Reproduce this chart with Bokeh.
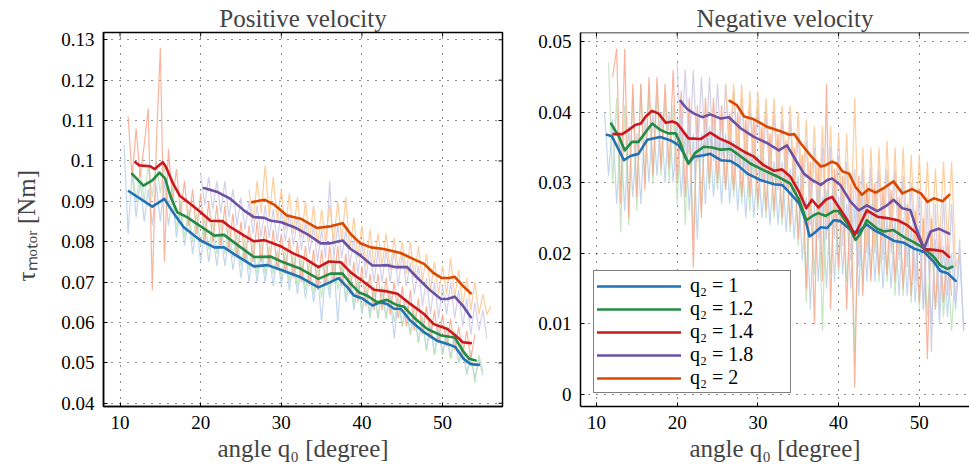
import math
from bokeh.plotting import figure
from bokeh.models import FixedTicker, Range1d, Legend, LegendItem, Span
from bokeh.layouts import row
from bokeh.embed import file_html
from bokeh.resources import INLINE

FONT = "Liberation Serif"

# ---------------- data ----------------
series_labels = ["q₂ = 1", "q₂ = 1.2", "q₂ = 1.4", "q₂ = 1.8", "q₂ = 2"]
main_colors = ["#2171b5", "#238b45", "#cb181d", "#6a51a3", "#d94801"]
pale_colors = ["#b7d0ea", "#bde2b6", "#f9a68c", "#cdc8e4", "#fdc58e"]

x_ticks = [10, 20, 30, 40, 50]
x_tick_labels = ["10", "20", "30", "40", "50"]
pos_y_ticks = [0.04, 0.05, 0.06, 0.07, 0.08, 0.09, 0.10, 0.11, 0.12, 0.13]
pos_y_tick_labels = ["0.04", "0.05", "0.06", "0.07", "0.08", "0.09", "0.1", "0.11", "0.12", "0.13"]
neg_y_ticks = [0.0, 0.01, 0.02, 0.03, 0.04, 0.05]
neg_y_tick_labels = ["0", "0.01", "0.02", "0.03", "0.04", "0.05"]

# raw (unfiltered) measurements, sampled every 0.5 degree from the start angle
raw_step = 0.5
pos_raw_start = [10.5, 11.5, 11.0, 20.0, 26.0]
pos_raw_q1 = [0.104,0.082,0.097,0.086,0.095,0.085,0.093,0.084,0.094,0.085,0.095,0.084,0.091,0.081,0.088,0.079,0.086,0.077,0.084,0.075,0.083,0.075,0.082,0.074,0.082,0.074,0.081,0.073,0.080,0.071,0.079,0.070,0.078,0.070,0.077,0.070,0.077,0.069,0.077,0.069,0.076,0.068,0.075,0.067,0.074,0.066,0.073,0.065,0.072,0.060,0.073,0.066,0.075,0.060,0.074,0.065,0.071,0.063,0.070,0.062,0.068,0.061,0.068,0.061,0.068,0.061,0.067,0.056,0.066,0.059,0.064,0.057,0.062,0.055,0.061,0.053,0.059,0.052,0.058,0.052,0.057,0.051,0.056,0.050,0.054,0.047,0.052,0.046,0.051,0.047]
pos_raw_q12 = [0.099,0.090,0.098,0.090,0.099,0.091,0.100,0.092,0.099,0.088,0.094,0.083,0.090,0.081,0.088,0.080,0.087,0.079,0.086,0.078,0.085,0.077,0.085,0.077,0.084,0.076,0.082,0.074,0.081,0.073,0.080,0.072,0.080,0.072,0.079,0.072,0.078,0.071,0.078,0.070,0.077,0.069,0.076,0.068,0.075,0.067,0.074,0.066,0.075,0.068,0.076,0.068,0.075,0.066,0.073,0.064,0.071,0.063,0.070,0.062,0.069,0.061,0.069,0.061,0.068,0.060,0.067,0.059,0.066,0.057,0.064,0.055,0.062,0.053,0.061,0.052,0.060,0.052,0.059,0.051,0.058,0.050,0.055,0.047,0.053,0.045,0.052,0.048]
pos_raw_q14 = [0.111,0.096,0.108,0.096,0.104,0.113,0.068,0.104,0.128,0.075,0.103,0.090,0.098,0.087,0.095,0.084,0.093,0.082,0.092,0.080,0.090,0.080,0.089,0.079,0.089,0.078,0.087,0.076,0.085,0.075,0.084,0.075,0.085,0.075,0.084,0.074,0.083,0.073,0.082,0.072,0.081,0.071,0.080,0.070,0.079,0.069,0.078,0.068,0.078,0.069,0.079,0.070,0.079,0.069,0.077,0.067,0.075,0.065,0.074,0.064,0.072,0.063,0.072,0.063,0.071,0.062,0.070,0.061,0.069,0.059,0.068,0.058,0.066,0.057,0.064,0.056,0.063,0.055,0.062,0.054,0.061,0.053,0.059,0.052,0.058,0.051,0.057]
pos_raw_q18 = [0.097,0.089,0.096,0.088,0.095,0.087,0.095,0.086,0.093,0.084,0.091,0.083,0.090,0.082,0.089,0.081,0.089,0.081,0.088,0.080,0.088,0.080,0.087,0.079,0.086,0.078,0.085,0.077,0.084,0.075,0.083,0.076,0.095,0.076,0.084,0.076,0.083,0.074,0.081,0.072,0.080,0.071,0.078,0.070,0.078,0.070,0.078,0.070,0.078,0.069,0.077,0.069,0.075,0.067,0.074,0.064,0.071,0.062,0.070,0.061,0.069,0.062,0.070,0.061,0.068,0.059,0.066,0.057,0.065,0.058,0.063,0.056]
pos_raw_q2 = [0.093,0.085,0.095,0.087,0.099,0.086,0.096,0.085,0.093,0.083,0.092,0.082,0.091,0.081,0.090,0.080,0.089,0.079,0.088,0.080,0.089,0.080,0.090,0.080,0.091,0.078,0.086,0.076,0.084,0.074,0.083,0.074,0.082,0.074,0.082,0.073,0.081,0.073,0.080,0.072,0.080,0.071,0.079,0.070,0.077,0.068,0.075,0.067,0.074,0.067,0.076,0.066,0.073,0.064,0.071,0.063,0.070,0.062,0.067,0.062,0.064]

neg_raw_start = [11.0, 11.5, 12.0, 20.0, 26.0]
neg_raw_q1 = [0.040,0.031,0.039,0.027,0.037,0.026,0.038,0.028,0.037,0.027,0.039,0.030,0.040,0.031,0.040,0.030,0.040,0.030,0.039,0.028,0.037,0.026,0.037,0.022,0.037,0.027,0.038,0.028,0.037,0.027,0.037,0.027,0.036,0.026,0.035,0.025,0.034,0.025,0.034,0.025,0.033,0.024,0.033,0.024,0.033,0.023,0.032,0.022,0.031,0.019,0.028,0.012,0.027,0.016,0.028,0.015,0.028,0.016,0.028,0.017,0.027,0.015,0.027,0.014,0.028,0.016,0.027,0.016,0.026,0.015,0.025,0.015,0.025,0.014,0.025,0.014,0.024,0.013,0.024,0.012,0.023,0.010,0.022,0.010,0.021,0.011,0.020,0.012,0.020,0.009]
neg_raw_q12 = [0.047,0.030,0.042,0.023,0.041,0.024,0.043,0.026,0.044,0.030,0.043,0.030,0.043,0.031,0.042,0.030,0.041,0.027,0.040,0.024,0.039,0.022,0.039,0.026,0.039,0.029,0.039,0.029,0.039,0.029,0.038,0.028,0.037,0.027,0.036,0.026,0.036,0.026,0.035,0.025,0.035,0.025,0.034,0.024,0.034,0.023,0.033,0.021,0.031,0.013,0.029,0.017,0.029,0.009,0.029,0.017,0.029,0.017,0.028,0.016,0.026,0.006,0.027,0.016,0.029,0.017,0.027,0.016,0.026,0.016,0.026,0.014,0.026,0.014,0.025,0.013,0.025,0.012,0.024,0.011,0.022,0.012,0.021,0.011,0.020,0.009,0.019]
neg_raw_q14 = [0.045,0.049,0.027,0.049,0.025,0.044,0.028,0.044,0.029,0.045,0.031,0.045,0.032,0.044,0.032,0.046,0.030,0.043,0.028,0.042,0.018,0.041,0.025,0.042,0.030,0.042,0.030,0.041,0.029,0.040,0.029,0.040,0.028,0.039,0.028,0.039,0.027,0.038,0.026,0.037,0.026,0.037,0.025,0.036,0.024,0.035,0.022,0.034,0.015,0.033,0.010,0.033,0.016,0.044,0.012,0.032,0.018,0.031,0.012,0.030,0.001,0.031,0.014,0.030,0.016,0.030,0.017,0.029,0.017,0.029,0.016,0.028,0.015,0.027,0.014,0.026,0.013,0.025,0.005,0.025,0.012,0.023,0.013,0.022,0.014]
neg_raw_q18 = [0.047,0.035,0.046,0.034,0.046,0.033,0.045,0.034,0.045,0.033,0.044,0.033,0.044,0.033,0.043,0.032,0.042,0.031,0.041,0.031,0.041,0.030,0.040,0.030,0.040,0.029,0.039,0.029,0.039,0.028,0.037,0.026,0.036,0.024,0.035,0.022,0.035,0.022,0.035,0.022,0.034,0.021,0.033,0.019,0.032,0.018,0.032,0.020,0.032,0.020,0.032,0.019,0.032,0.020,0.032,0.019,0.031,0.018,0.030,0.016,0.029,0.012,0.028,0.006,0.027,0.012,0.028,0.014,0.027,0.013,0.022,0.009]
neg_raw_q2 = [0.044,0.035,0.044,0.034,0.044,0.033,0.043,0.033,0.043,0.032,0.042,0.032,0.042,0.031,0.041,0.031,0.041,0.030,0.040,0.028,0.039,0.026,0.038,0.025,0.038,0.025,0.038,0.025,0.037,0.024,0.037,0.023,0.042,0.021,0.035,0.021,0.035,0.021,0.035,0.022,0.036,0.022,0.035,0.021,0.035,0.021,0.034,0.021,0.034,0.020,0.033,0.020,0.032,0.021,0.033,0.021,0.033,0.018,0.020]

# filtered curves
pos_x_q1 = [11.1,14.0,15.5,16.7,17.9,20.0,21.7,22.9,24.1,26.6,28.3,30.0,32.4,34.6,36.1,37.1,38.2,39.0,40.0,41.3,42.3,43.1,44.0,44.8,46.0,47.7,49.3,50.6,51.6,52.6,53.5,54.5]
pos_y_q1 = [0.0925,0.0887,0.0906,0.0869,0.0836,0.0803,0.0786,0.0786,0.0770,0.0739,0.0742,0.0730,0.0712,0.0687,0.0700,0.0710,0.0687,0.0667,0.0660,0.0642,0.0650,0.0646,0.0634,0.0634,0.0605,0.0576,0.0555,0.0547,0.0539,0.0510,0.0497,0.0495]
pos_x_q12 = [11.5,12.9,14.0,14.9,15.6,16.3,17.1,18.3,20.0,21.7,22.9,24.1,26.6,28.7,30.0,32.4,34.6,36.1,37.6,38.6,39.6,40.6,41.9,43.1,44.2,45.2,46.4,48.1,49.8,51.5,52.5,53.3,54.1]
pos_y_q12 = [0.0968,0.0939,0.0952,0.0971,0.0956,0.0910,0.0873,0.0861,0.0838,0.0815,0.0817,0.0799,0.0762,0.0763,0.0751,0.0733,0.0708,0.0721,0.0721,0.0696,0.0675,0.0667,0.0650,0.0656,0.0644,0.0639,0.0613,0.0584,0.0568,0.0563,0.0530,0.0510,0.0506]
pos_x_q14 = [11.9,12.4,13.7,14.3,15.3,15.7,16.6,17.4,18.7,20.0,21.2,22.7,23.7,25.4,26.6,27.9,30.0,31.6,32.8,34.6,35.9,37.4,38.6,40.0,41.5,43.1,44.4,46.0,47.7,48.9,50.6,51.6,52.5,53.5]
pos_y_q14 = [0.0997,0.0989,0.0987,0.0980,0.0997,0.0985,0.0943,0.0914,0.0894,0.0873,0.0852,0.0851,0.0836,0.0815,0.0801,0.0804,0.0788,0.0770,0.0760,0.0737,0.0751,0.0749,0.0724,0.0704,0.0681,0.0677,0.0671,0.0646,0.0621,0.0596,0.0584,0.0568,0.0551,0.0549]
pos_x_q18 = [20.4,22.1,23.7,25.4,26.6,27.9,28.7,30.0,31.6,33.2,34.9,36.1,37.6,38.6,39.8,41.3,42.3,43.1,44.2,45.6,46.8,48.5,49.8,50.6,51.5,52.5,53.5]
pos_y_q18 = [0.0933,0.0923,0.0906,0.0877,0.0861,0.0859,0.0852,0.0848,0.0836,0.0819,0.0796,0.0796,0.0803,0.0782,0.0766,0.0741,0.0741,0.0742,0.0737,0.0737,0.0712,0.0679,0.0658,0.0658,0.0664,0.0642,0.0613]
pos_x_q2 = [26.4,27.9,29.1,30.7,32.4,34.4,36.1,37.6,38.6,39.8,41.1,42.7,44.8,46.4,47.7,48.9,49.9,50.8,51.5,52.5,53.5]
pos_y_q2 = [0.0898,0.0904,0.0892,0.0865,0.0857,0.0834,0.0838,0.0846,0.0819,0.0796,0.0786,0.0782,0.0772,0.0757,0.0745,0.0722,0.0710,0.0710,0.0713,0.0691,0.0672]

neg_x_q1 = [11.3,11.9,12.8,13.4,14.2,15.2,16.3,17.9,19.2,20.2,20.8,21.4,22.1,23.3,24.1,25.4,26.6,27.6,28.7,30.3,32.0,33.0,34.0,35.1,35.9,36.4,36.9,37.8,38.6,39.4,40.2,41.5,42.3,43.5,44.4,45.6,46.8,48.1,49.3,50.6,51.8,52.6,53.5,54.5]
neg_y_q1 = [0.0368,0.0366,0.0346,0.0332,0.0338,0.0341,0.0361,0.0365,0.0360,0.0353,0.0342,0.0328,0.0337,0.0339,0.0341,0.0332,0.0331,0.0324,0.0313,0.0304,0.0298,0.0297,0.0285,0.0271,0.0247,0.0224,0.0228,0.0237,0.0236,0.0247,0.0246,0.0233,0.0229,0.0241,0.0233,0.0226,0.0218,0.0215,0.0207,0.0202,0.0188,0.0175,0.0172,0.0161]
neg_x_q12 = [11.8,12.8,13.5,14.4,15.2,16.1,16.9,17.9,18.9,19.8,20.4,21.0,21.4,22.2,23.3,24.3,25.4,26.6,27.8,29.1,30.7,32.4,34.0,35.1,36.0,36.9,37.5,38.4,39.4,40.0,41.1,42.1,42.7,43.5,44.8,45.6,46.8,48.1,49.3,50.6,51.8,52.6,53.5,54.1]
neg_y_q12 = [0.0384,0.0365,0.0346,0.0358,0.0358,0.0372,0.0384,0.0375,0.0370,0.0370,0.0356,0.0336,0.0327,0.0342,0.0351,0.0350,0.0347,0.0348,0.0338,0.0327,0.0318,0.0309,0.0299,0.0276,0.0247,0.0254,0.0257,0.0253,0.0260,0.0260,0.0242,0.0219,0.0228,0.0247,0.0235,0.0231,0.0233,0.0223,0.0216,0.0207,0.0195,0.0183,0.0178,0.0181]
neg_x_q14 = [12.1,13.2,14.0,14.8,15.5,16.1,16.9,17.7,18.6,19.4,20.0,20.6,21.4,22.9,24.1,25.2,26.6,28.3,29.5,30.7,32.0,33.0,34.0,35.1,36.0,36.7,37.5,38.4,39.2,40.0,41.1,42.0,42.7,43.5,44.8,46.0,47.3,48.5,49.7,50.6,51.8,52.9,53.7]
neg_y_q14 = [0.0369,0.0369,0.0375,0.0382,0.0384,0.0394,0.0402,0.0398,0.0385,0.0387,0.0384,0.0375,0.0363,0.0362,0.0371,0.0363,0.0356,0.0344,0.0337,0.0325,0.0317,0.0319,0.0309,0.0287,0.0264,0.0276,0.0265,0.0276,0.0280,0.0266,0.0247,0.0226,0.0242,0.0261,0.0252,0.0250,0.0247,0.0240,0.0228,0.0206,0.0205,0.0203,0.0195]
neg_x_q18 = [20.4,21.2,22.1,23.1,24.1,25.4,26.4,27.9,29.5,31.2,32.6,33.6,34.7,35.7,36.7,37.8,38.6,39.2,40.2,41.5,42.5,43.5,44.8,46.0,46.8,47.9,48.9,49.7,50.6,51.4,52.4,53.7]
neg_y_q18 = [0.0416,0.0405,0.0398,0.0393,0.0397,0.0391,0.0393,0.0377,0.0365,0.0356,0.0346,0.0353,0.0332,0.0313,0.0304,0.0297,0.0304,0.0306,0.0297,0.0273,0.0261,0.0268,0.0260,0.0268,0.0276,0.0264,0.0261,0.0233,0.0207,0.0231,0.0235,0.0228]
neg_x_q2 = [26.5,27.4,28.3,29.5,31.2,32.8,33.9,34.5,35.3,36.5,37.8,38.4,39.2,39.8,40.5,41.3,42.1,42.9,43.7,44.6,45.8,46.8,47.9,49.1,50.2,51.0,51.8,52.9,53.7]
neg_y_q2 = [0.0416,0.0410,0.0394,0.0390,0.0379,0.0373,0.0368,0.0369,0.0356,0.0339,0.0323,0.0325,0.0330,0.0327,0.0316,0.0313,0.0294,0.0283,0.0291,0.0286,0.0294,0.0302,0.0285,0.0291,0.0285,0.0273,0.0278,0.0274,0.0283]

pos_x_range = (7.95, 57.43)
neg_x_range = (8.02, 56.22)   # the right edge of this panel is cut off by the picture
pos_y_range = (0.0392, 0.1318)
neg_y_range = (-0.0017, 0.0513)


def raw_x(start, vals):
    return [start + raw_step * i for i in range(len(vals))]


def style_axis(ax, ticks, labels):
    ax.ticker = FixedTicker(ticks=ticks)
    ax.major_label_overrides = {t: l for t, l in zip(ticks, labels)}
    ax.major_tick_in = 4
    ax.major_tick_out = 0
    ax.minor_tick_in = 0
    ax.minor_tick_out = 0
    ax.major_tick_line_color = "black"
    ax.axis_line_color = "black"
    ax.axis_line_width = 1.5
    ax.major_label_text_font = FONT
    ax.major_label_text_color = "black"
    ax.major_label_text_font_size = "19px"
    ax.major_label_standoff = 9


def make_panel(title, xr, yr, yticks, ylabels, raws, starts, curves, width, bl, br, ylabel,
               boxed, title_offset):
    p = figure(width=width, height=464, output_backend="svg", toolbar_location=None,
               x_range=Range1d(*xr), y_range=Range1d(*yr),
               min_border_left=bl, min_border_right=br, min_border_top=32, min_border_bottom=58)
    p.title.text = title
    p.title.text_font = FONT
    p.title.text_font_size = "25px"
    p.title.text_font_style = "normal"
    p.title.standoff = 1
    if title_offset is None:
        p.title.align = "center"
    else:
        p.title.align = "left"
        p.title.offset = title_offset
    p.background_fill_color = "white"
    p.border_fill_color = "white"

    style_axis(p.xaxis[0], x_ticks, x_tick_labels)
    style_axis(p.yaxis[0], yticks, ylabels)
    p.xaxis.axis_label = "angle q₀ [degree]"
    p.xaxis.axis_label_text_font = FONT
    p.xaxis.axis_label_text_font_size = "25px"
    p.xaxis.axis_label_text_font_style = "normal"
    p.xaxis.axis_label_standoff = 3
    if ylabel:
        p.yaxis.axis_label = ylabel
        p.yaxis.axis_label_text_font = FONT
        p.yaxis.axis_label_text_font_size = "25px"
        p.yaxis.axis_label_text_font_style = "normal"
        p.yaxis.axis_label_standoff = 18

    for ax_grid in (p.xgrid[0], p.ygrid[0]):
        ax_grid.grid_line_color = "black"
        ax_grid.grid_line_dash = "1 7"
        ax_grid.grid_line_width = 1
        ax_grid.grid_line_alpha = 0.9
    p.xgrid[0].ticker = FixedTicker(ticks=x_ticks)
    p.ygrid[0].ticker = FixedTicker(ticks=yticks)

    for vals, st, col in zip(raws, starts, pale_colors):
        p.line(raw_x(st, vals), vals, line_color=col, line_width=1.2, line_alpha=0.85)
    rends = []
    for (xs, ys), col in zip(curves, main_colors):
        rends.append(p.line(xs, ys, line_color=col, line_width=2.6, line_join="round", line_cap="round"))

    # inward tick marks on the top (and right) edges of the box; half of each dash is clipped away
    p.scatter(x=x_ticks, y=[yr[1]] * len(x_ticks), marker="dash", angle=math.pi / 2,
              size=8, line_color="black", line_width=1)
    if boxed:
        p.outline_line_color = "black"
        p.outline_line_width = 1.5
        p.scatter(x=[xr[1]] * len(yticks), y=yticks, marker="dash",
                  size=8, line_color="black", line_width=1)
    else:
        p.outline_line_color = None
        p.add_layout(Span(location=yr[1], dimension="width", line_color="black", line_width=1.5))
    return p, rends


p1, _ = make_panel("Positive velocity", pos_x_range, pos_y_range, pos_y_ticks, pos_y_tick_labels,
                   [pos_raw_q1, pos_raw_q12, pos_raw_q14, pos_raw_q18, pos_raw_q2], pos_raw_start,
                   [(pos_x_q1, pos_y_q1), (pos_x_q12, pos_y_q12), (pos_x_q14, pos_y_q14),
                    (pos_x_q18, pos_y_q18), (pos_x_q2, pos_y_q2)],
                   510, 103, 8, "τₘₒₜₒᵣ   [Nm]", True, None)
p2, rends2 = make_panel("Negative velocity", neg_x_range, neg_y_range, neg_y_ticks, neg_y_tick_labels,
                        [neg_raw_q1, neg_raw_q12, neg_raw_q14, neg_raw_q18, neg_raw_q2], neg_raw_start,
                        [(neg_x_q1, neg_y_q1), (neg_x_q12, neg_y_q12), (neg_x_q14, neg_y_q14),
                         (neg_x_q18, neg_y_q18), (neg_x_q2, neg_y_q2)],
                        459, 70, 0, None, False, 116)

legend = Legend(items=[LegendItem(label=lab, renderers=[r]) for lab, r in zip(series_labels, rends2)],
                location=(13, 13))
legend.label_text_font = FONT
legend.label_text_font_size = "20px"
legend.label_text_color = "black"
legend.glyph_width = 84
legend.glyph_height = 20
legend.label_height = 20
legend.label_width = 97
legend.label_standoff = 9
legend.spacing = 0
legend.padding = 3
legend.margin = 0
legend.border_line_color = "black"
legend.border_line_width = 1.5
legend.background_fill_color = "white"
legend.background_fill_alpha = 1.0
p2.add_layout(legend, "center")

layout = row(p1, p2)
open("out.html", "w").write(file_html(layout, INLINE))
